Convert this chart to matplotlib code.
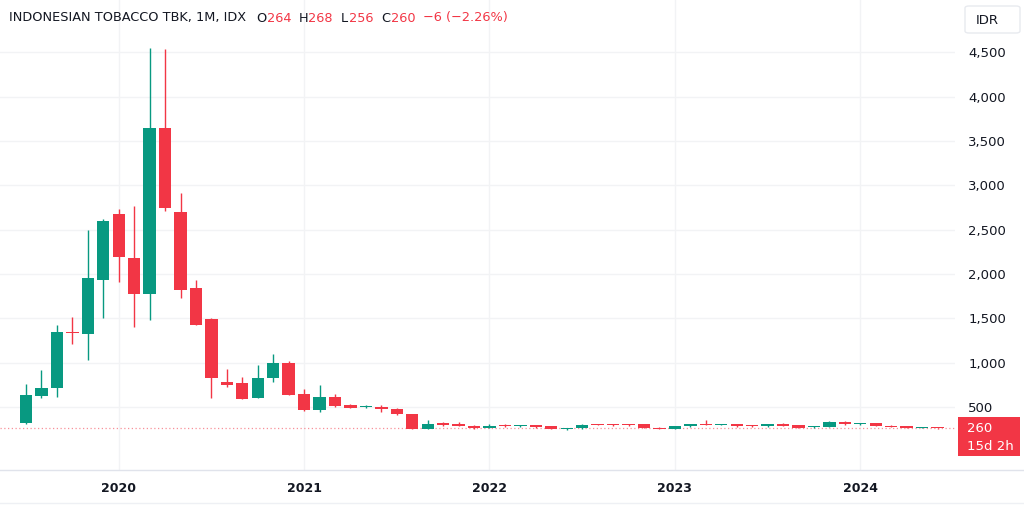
import matplotlib
matplotlib.use("Agg")
import matplotlib.pyplot as plt
from matplotlib.patches import FancyBboxPatch, Rectangle
from matplotlib.lines import Line2D
import pandas as pd

# ---------------- data ----------------
months = pd.date_range("2019-07-01", "2024-06-01", freq="MS")
opens = [320, 627, 714, 1345, 1326, 1934, 2674, 2178, 1777, 3647,
         2693, 1844, 1495, 785, 770, 605, 830, 999, 650, 462,
         612, 518, 497, 505, 480, 417, 252, 310, 308, 285,
         267, 292, 280, 293, 282, 248, 258, 302, 300, 300,
         305, 268, 256, 283, 305, 297, 305, 290, 280, 310,
         293, 270, 278, 331, 305, 315, 290, 280, 266, 264]
highs = [755, 913, 1427, 1514, 2501, 2620, 2734, 2761, 4548, 4540,
         2915, 1934, 1500, 931, 837, 969, 1100, 1018, 706, 744,
         650, 529, 520, 520, 485, 420, 357, 334, 330, 292,
         312, 312, 300, 302, 285, 268, 305, 308, 310, 310,
         308, 270, 290, 310, 352, 308, 308, 295, 308, 318,
         296, 290, 342, 338, 318, 320, 298, 286, 275, 268]
lows = [310, 605, 612, 1206, 1025, 1506, 1908, 1401, 1484, 2715,
        1728, 1420, 605, 725, 590, 600, 781, 635, 455, 443,
        505, 484, 490, 445, 410, 246, 250, 290, 280, 256,
        262, 278, 275, 268, 248, 240, 252, 292, 290, 285,
        265, 250, 250, 278, 295, 294, 278, 276, 276, 282,
        258, 266, 272, 302, 300, 280, 272, 262, 262, 256]
closes = [640, 717, 1345, 1330, 1957, 2599, 2190, 1777, 3647, 2742,
          1814, 1427, 830, 751, 593, 830, 999, 639, 462, 612,
          511, 488, 505, 480, 417, 252, 304, 302, 282, 262,
          285, 282, 288, 270, 255, 263, 301, 297, 296, 292,
          268, 256, 286, 305, 298, 302, 282, 282, 305, 286,
          262, 282, 335, 305, 312, 285, 276, 266, 270, 260]
price_ticks = [500, 1000, 1500, 2000, 2500, 3000, 3500, 4000, 4500]
title_name = "INDONESIAN TOBACCO TBK, 1M, IDX"
change_text = "\u22126 (\u22122.26%)"
countdown = "15d 2h"
currency = "IDR"

# ---------------- style ----------------
GREEN = "#089981"
RED = "#F23645"
TXT = "#131722"
GRID = "#f2f3f5"
plt.rcParams["font.family"] = ["DejaVu Sans"]

W, H = 1024, 505
fig = plt.figure(figsize=(W / 100, H / 100), dpi=100)
fig.patch.set_facecolor("white")

def fx(px):
    return px / W

def fy(py):
    return 1 - py / H

ax = fig.add_axes([0, fy(470), fx(955), 470 / H])
ax.set_facecolor("white")

x = list(range(len(months)))
for i in x:
    o, h, l, c = opens[i], highs[i], lows[i], closes[i]
    col = GREEN if c >= o else RED
    ax.vlines(i, l, h, color=col, lw=1.0, zorder=3)
    bottom = min(o, c)
    height = max(abs(c - o), 12)
    ax.bar(i, height, bottom=bottom, width=0.8, color=col, zorder=4, linewidth=0)

# price line
ax.axhline(closes[-1], color=RED, alpha=0.55, lw=0.9, ls=(0, (1, 2)), zorder=2)

ax.set_xlim(-1.683, 60.13)
ax.set_ylim(-211, 5089)

year_idx = [i for i, m in enumerate(months) if m.month == 1]
year_lab = [str(months[i].year) for i in year_idx]
ax.set_xticks(year_idx)
ax.set_xticklabels(year_lab, fontsize=9, color=TXT, fontweight="bold")
ax.set_yticks(price_ticks)
ax.set_yticklabels([f"{v:,}" for v in price_ticks], fontsize=9.5, color=TXT)
ax.yaxis.tick_right()
ax.tick_params(axis="y", length=0, pad=9.5)
ax.tick_params(axis="x", length=0, pad=9)
ax.grid(True, color=GRID, lw=1.0, zorder=0)
for s in ax.spines.values():
    s.set_visible(False)

# separators
fig.add_artist(Line2D([0, 1], [fy(470), fy(470)], color="#e0e3eb", lw=1.0))
fig.add_artist(Line2D([0, 1], [fy(503), fy(503)], color="#eef0f4", lw=1.0))

# title
tfs = 9.3
fig.text(fx(9), fy(18), title_name, fontsize=tfs, color=TXT, va="center", ha="left")
pieces = [(256, "O", TXT), (267, str(opens[-1]), RED),
          (299, "H", TXT), (308, str(highs[-1]), RED),
          (341, "L", TXT), (349, str(lows[-1]), RED),
          (381, "C", TXT), (391, str(closes[-1]), RED),
          (423, change_text, RED)]
for px, s, col in pieces:
    fig.text(fx(px), fy(18), s, fontsize=tfs, color=col, va="center", ha="left")

# IDR box
fig.add_artist(FancyBboxPatch((fx(965), fy(33)), fx(55), 27 / H,
                              boxstyle="round,pad=0,rounding_size=0.004",
                              facecolor="white", edgecolor="#e8eaef", lw=1.0,
                              transform=fig.transFigure))
fig.text(fx(976), fy(20), currency, fontsize=9.5, color=TXT, va="center", ha="left")

# last price label
fig.add_artist(Rectangle((fx(958), fy(456)), fx(62), 39 / H,
                         facecolor=RED, edgecolor="none", transform=fig.transFigure))
fig.text(fx(967), fy(429), str(closes[-1]), fontsize=9.5, color="white", va="center", ha="left")
fig.text(fx(967), fy(447), countdown, fontsize=9.5, color="white", va="center", ha="left")

fig.savefig("out.png", dpi=100, facecolor="white")
